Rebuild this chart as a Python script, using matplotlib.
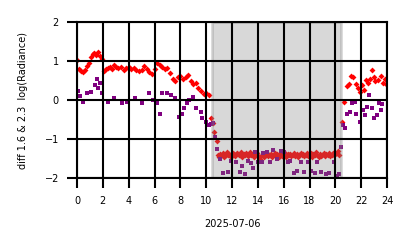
import numpy as np
import matplotlib
matplotlib.use("Agg")
import matplotlib.pyplot as plt

# ===== DATA (hours, diff value) =====
red_hours = [0.0, 0.15, 0.3, 0.45, 0.6, 0.75, 0.9, 1.05, 1.2, 1.35, 1.5, 1.65, 1.8, 1.95,
             2.1, 2.25, 2.4, 2.55, 2.7, 2.85, 3.0, 3.2, 3.4, 3.6, 3.8, 4.0, 4.2, 4.4,
             4.6, 4.8, 5.0, 5.2, 5.4, 5.6, 5.8, 6.0, 6.2, 6.4, 6.6, 6.8, 7.0, 7.2,
             7.4, 7.6, 7.8, 8.0, 8.2, 8.4, 8.6, 8.8, 9.0, 9.2, 9.4, 9.6, 9.8, 10.0,
             10.2, 10.4, 10.5, 10.6]
red_vals = [1.02, 0.8, 0.75, 0.72, 0.78, 0.88, 0.95, 1.1, 1.18, 1.2, 1.15, 1.22, 1.12, 1.05,
            0.75, 0.8, 0.82, 0.85, 0.8, 0.9, 0.85, 0.82, 0.85, 0.78, 0.82, 0.86, 0.8, 0.83,
            0.78, 0.74, 0.76, 0.88, 0.8, 0.72, 0.66, 0.8, 0.95, 0.9, 0.85, 0.8, 0.82, 0.7,
            0.55, 0.5, 0.58, 0.62, 0.55, 0.6, 0.65, 0.5, 0.42, 0.45, 0.3, 0.22, 0.15, 0.18,
            0.12, -0.45, -0.6, -0.82]

# shaded period, roughly every 0.1 h
red_band_hours = [10.8, 10.9, 11.0, 11.1, 11.2, 11.3, 11.4, 11.5, 11.6, 11.7, 11.8, 11.9,
                  12.0, 12.1, 12.2, 12.3, 12.4, 12.5, 12.6, 12.7, 12.8, 12.9, 13.0, 13.1,
                  13.2, 13.3, 13.4, 13.5, 13.6, 13.7, 13.8, 13.9, 14.0, 14.1, 14.2, 14.3,
                  14.4, 14.5, 14.6, 14.7, 14.8, 14.9, 15.0, 15.1, 15.2, 15.3, 15.4, 15.5,
                  15.6, 15.7, 15.8, 15.9, 16.0, 16.1, 16.2, 16.3, 16.4, 16.5, 16.6, 16.7,
                  16.8, 16.9, 17.0, 17.1, 17.2, 17.3, 17.4, 17.5, 17.6, 17.7, 17.8, 17.9,
                  18.0, 18.1, 18.2, 18.3, 18.4, 18.5, 18.6, 18.7, 18.8, 18.9, 19.0, 19.1,
                  19.2, 19.3, 19.4, 19.5, 19.6, 19.7, 19.8, 19.9, 20.0, 20.1, 20.2, 20.3]
red_band_vals = [-1.05, -1.4, -1.45, -1.38, -1.42, -1.36, -1.45, -1.4, -1.34, -1.42, -1.38, -1.46,
                 -1.4, -1.36, -1.44, -1.38, -1.35, -1.42, -1.4, -1.33, -1.45, -1.38, -1.41, -1.36,
                 -1.44, -1.4, -1.34, -1.42, -1.38, -1.45, -1.4, -1.37, -1.43, -1.46, -1.5, -1.42,
                 -1.38, -1.45, -1.41, -1.36, -1.44, -1.4, -1.38, -1.46, -1.4, -1.35, -1.43, -1.39,
                 -1.45, -1.41, -1.37, -1.43, -1.4, -1.36, -1.45, -1.39, -1.42, -1.38, -1.44, -1.4,
                 -1.36, -1.43, -1.39, -1.45, -1.41, -1.35, -1.42, -1.38, -1.44, -1.4, -1.36, -1.43,
                 -1.4, -1.37, -1.45, -1.39, -1.42, -1.34, -1.41, -1.46, -1.38, -1.43, -1.4, -1.36,
                 -1.44, -1.39, -1.41, -1.37, -1.43, -1.4, -1.36, -1.42, -1.38, -1.35, -1.3, -1.4]

red_after_hours = [20.5, 20.65, 20.9, 21.05, 21.2, 21.35, 21.6, 21.75, 21.9, 22.05, 22.2,
                   22.35, 22.5, 22.65, 22.8, 22.95, 23.1, 23.3, 23.5, 23.65, 23.8, 23.95]
red_after_vals = [-0.56, -0.04, 0.35, 0.42, 0.62, 0.58, 0.4, 0.3, 0.2, 0.38, 0.25,
                  0.52, 0.45, 0.55, 0.76, 0.6, 0.48, 0.52, 0.62, 0.45, 0.55, 0.42]

purple_hours = [0.05, 0.2, 0.45, 0.8, 1.1, 1.4, 1.55, 1.65, 1.8, 1.95, 2.4, 2.9, 3.5, 3.9,
                4.5, 5.0, 5.6, 5.9, 6.2, 6.4, 6.6, 7.0, 7.3, 7.6, 7.9, 8.1, 8.3, 8.5,
                8.7, 8.95, 9.2, 9.6, 9.7, 10.0, 10.2, 10.4, 10.5,
                10.7, 10.8, 11.1, 11.3, 11.7, 11.9, 12.3, 12.6, 12.8, 13.0, 13.2, 13.5,
                13.6, 13.8, 14.0, 14.3, 14.4, 14.7, 14.9, 15.2, 15.5, 15.8, 16.0, 16.3,
                16.5, 16.8, 17.0, 17.3, 17.6, 17.9, 18.1, 18.4, 18.6, 18.9, 19.3, 19.5,
                19.9, 20.1, 20.3, 20.4,
                20.6, 20.75, 20.9, 21.1, 21.3, 21.5, 21.6, 21.9, 22.1, 22.3, 22.45, 22.6,
                22.8, 22.95, 23.2, 23.4, 23.5, 23.6]
purple_vals = [0.23, 0.1, -0.05, 0.18, 0.2, 0.38, 0.55, 0.3, 0.43, 0.18, -0.05, 0.05, -0.08, -0.05,
               0.05, -0.08, 0.18, 0.0, -0.08, -0.35, 0.18, 0.18, 0.13, 0.05, -0.43, -0.35, -0.2, -0.08,
               0.0, 0.08, -0.2, -0.3, -0.45, -0.55, -0.65, -0.62, -0.6,
               -0.95, -1.25, -1.5, -1.88, -1.85, -1.55, -1.6, -1.85, -1.7, -1.9, -1.55, -1.62,
               -1.75, -1.33, -1.6, -1.58, -1.37, -1.33, -1.6, -1.28, -1.5, -1.3, -1.33, -1.58,
               -1.55, -1.88, -1.82, -1.6, -1.85, -1.58, -1.82, -1.88, -1.6, -1.85, -1.9, -1.88,
               -1.6, -1.95, -1.9, -1.2,
               -0.64, -0.72, -0.35, -0.3, -0.08, -0.05, -0.35, -0.56, -0.26, -0.38, -0.17, 0.13,
               -0.2, -0.45, -0.38, -0.08, -0.26, -0.1]

shade_start, shade_end = 10.45, 20.45

# ===== PLOT =====
fig, ax = plt.subplots(figsize=(4.14, 2.48), dpi=100)
fig.subplots_adjust(left=0.186, right=0.935, top=0.911, bottom=0.282)

red_x = red_hours + red_band_hours + red_after_hours
red_y = red_vals + red_band_vals + red_after_vals
ax.plot(red_x, red_y, linestyle="none", marker="D", markersize=3,
        color="red", markeredgewidth=0, zorder=2)
ax.plot(purple_hours, purple_vals, linestyle="none", marker="s", markersize=2.8,
        color="purple", markeredgewidth=0, zorder=2)

ax.axvspan(shade_start, shade_end, color="gray", alpha=0.3, linewidth=2, zorder=2.2)

ax.set_xlim(0, 24)
ax.set_ylim(-2, 2)
ax.set_xticks(np.arange(0, 25, 2))
ax.set_yticks([-2, -1, 0, 1, 2])
ax.grid(True, color="black", linewidth=1.5, zorder=2.5)
ax.set_axisbelow(False)
for s in ax.spines.values():
    s.set_linewidth(1.5)
ax.tick_params(axis="both", labelsize=7, width=1.5, length=7, pad=6)
ax.set_xlabel("2025-07-06", fontsize=7, labelpad=9)
ax.set_ylabel("diff 1.6 & 2.3  log(Radiance)", fontsize=7, labelpad=12)

plt.savefig("out.png")
